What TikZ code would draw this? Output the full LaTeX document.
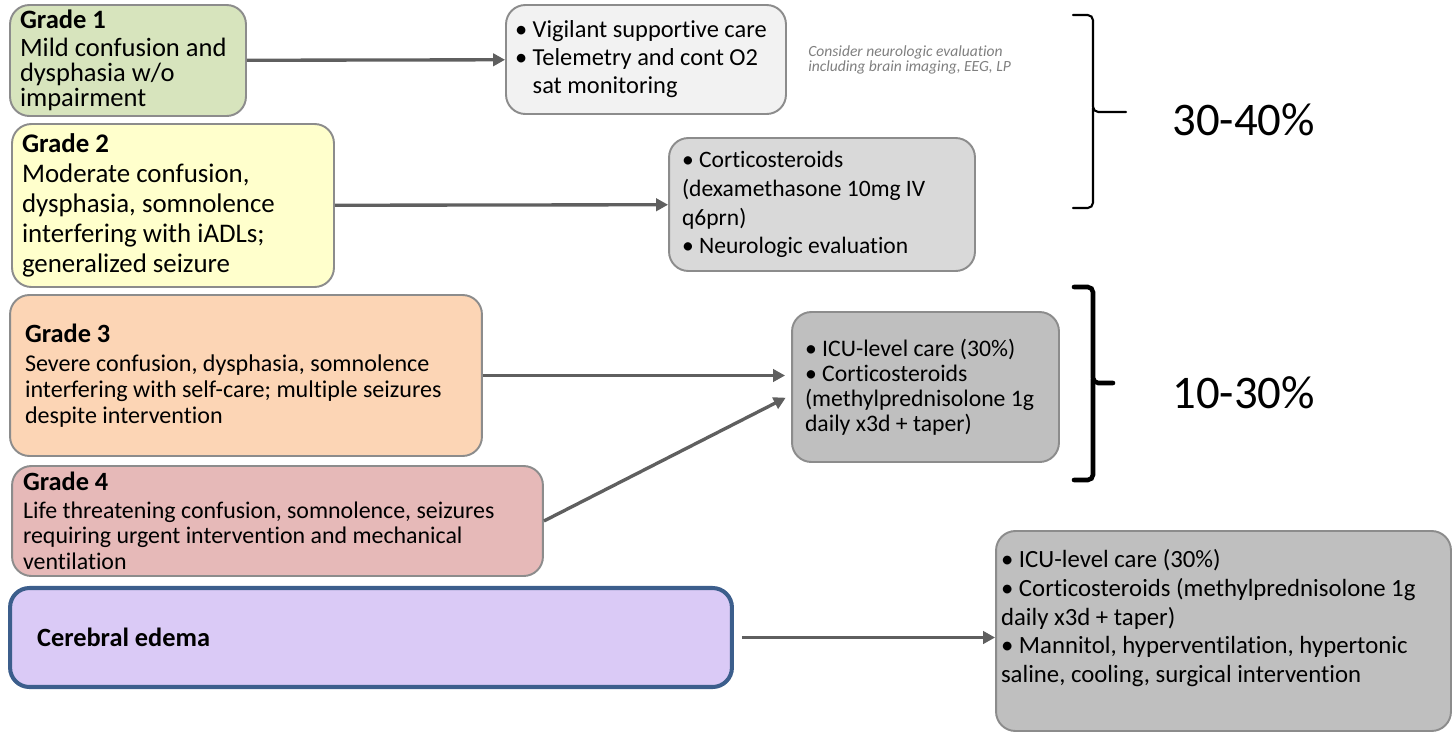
\documentclass[tikz,border=0pt]{standalone}
\usepackage{fontspec}
\setmainfont{Carlito}[Ligatures={NoCommon,NoContextual}]
\usepackage{xcolor}
\usepackage{tikz}
\usetikzlibrary{arrows.meta}

\definecolor{gradeone}{HTML}{D7E4BD}
\definecolor{gradetwo}{HTML}{FFFFCC}
\definecolor{gradethree}{HTML}{FCD5B5}
\definecolor{gradefour}{HTML}{E6B9B8}
\definecolor{edemafill}{HTML}{DACAF6}
\definecolor{edemaline}{HTML}{3C5E8C}
\definecolor{boxline}{HTML}{8C8C8C}
\definecolor{arrowgray}{HTML}{5F5F5F}
\definecolor{notegray}{HTML}{7F7F7F}

\begin{document}
\begin{tikzpicture}[x=0.02cm, y=-0.02cm,
    box/.style={draw=boxline, line width=1.1pt, rounded corners=11pt, align=flush left,
        inner ysep=0pt, execute at begin node={\lineskiplimit=-20pt}},
    arr/.style={draw=arrowgray, line width=1.9pt, -{Triangle[length=6.8pt,width=7pt]}},
    brace/.style={draw=black, rounded corners=3pt, line cap=round}]

    \useasboundingbox (0,0) rectangle (1454,734);

    % grades
    \node[box, fill=gradeone, minimum width=4.72cm, minimum height=2.22cm, inner xsep=0.2cm,
        text width=4.32cm, font=\fontsize{15.1}{14.2}\selectfont] (g1) at (128,60.5)
        {\textbf{Grade 1}\\[1.5pt]Mild confusion and\\dysphasia w/o\\impairment};
    \node[box, fill=gradetwo, minimum width=6.44cm, minimum height=3.26cm, inner xsep=0.2cm,
        text width=6.04cm, font=\fontsize{15.3}{17}\selectfont] (g2) at (173,205.5)
        {\textbf{Grade 2}\\Moderate confusion,\\dysphasia, somnolence\\interfering with iADLs;\\generalized seizure};
    \node[box, fill=gradethree, minimum width=9.44cm, minimum height=3.22cm, inner xsep=0.3cm,
        text width=8.84cm, font=\fontsize{13.7}{14.7}\selectfont] (g3) at (246,375.5)
        {\textbf{\fontsize{15}{15}\selectfont Grade 3}\\[2pt]Severe confusion, dysphasia, somnolence\\interfering with self-care; multiple seizures\\despite intervention};
    \node[box, fill=gradefour, minimum width=10.62cm, minimum height=2.2cm, inner xsep=0.22cm,
        text width=10.18cm, font=\fontsize{13.6}{14.7}\selectfont] (g4) at (277.5,521)
        {\textbf{\fontsize{15}{15}\selectfont Grade 4}\\[1pt]Life threatening confusion, somnolence, seizures\\requiring urgent intervention and mechanical\\ventilation};
    \node[box, draw=edemaline, line width=2.3pt, fill=edemafill, minimum width=14.44cm, minimum height=1.98cm,
        inner xsep=0.54cm, text width=13.36cm, font=\fontsize{15}{17}\selectfont\bfseries] (ed) at (371,637.5)
        {Cerebral edema};

    % treatments
    \node[box, fill=black!5, minimum width=5.6cm, minimum height=2.18cm, inner xsep=0.18cm,
        text width=5.24cm, font=\fontsize{13.9}{15.9}\selectfont] (t1) at (646,59.5)
        {• Vigilant supportive care\\• Telemetry and cont O2\\\hphantom{•~}sat monitoring};
    \node[box, fill=black!15, minimum width=6.12cm, minimum height=2.66cm, inner xsep=0.26cm,
        text width=5.6cm, font=\fontsize{13.4}{16.4}\selectfont] (t2) at (822,204.5)
        {• Corticosteroids\\(dexamethasone 10mg IV\\q6prn)\\• Neurologic evaluation};
    \node[box, fill=black!25, minimum width=5.34cm, minimum height=3cm, inner xsep=0.26cm,
        text width=4.82cm, font=\fontsize{13.5}{14.2}\selectfont] (t3) at (925.5,387)
        {• ICU-level care (30\%)\\• Corticosteroids\\(methylprednisolone 1g\\daily x3d + taper)};
    \node[box, fill=black!25, minimum width=9.1cm, minimum height=4cm, inner xsep=0.1cm,
        text width=8.9cm, text depth=82.7pt, font=\fontsize{14.1}{16.4}\selectfont] (t4) at (1223.5,631)
        {• ICU-level care (30\%)\\• Corticosteroids (methylprednisolone 1g\\daily x3d + taper)\\• Mannitol, hyperventilation, hypertonic\\saline, cooling, surgical intervention};

    \node[anchor=west, align=left, text=notegray, inner sep=0pt,
        font=\fontsize{8.85}{8.5}\selectfont\itshape] (note) at (808,60)
        {Consider neurologic evaluation\\including brain imaging, EEG, LP};

    % arrows
    \draw[arr] (g1) -- (t1);
    \draw[arr] (g2) -- (t2);
    \draw[arr, shorten >=0.12cm] (g3.east) -- (g3.east -| t3.west);
    \draw[arr, shorten >=0.12cm] (g4.east) -- ([yshift=-0.16cm]t3.west);
    \draw[arr, shorten <=0.16cm] (ed.east) -- (ed.east -| t4.west);

    % braces
    \draw[brace, line width=1.2pt] (1073,15) -- (1093,15) -- (1093,112) -- (1126,112);
    \draw[brace, line width=1.2pt] (1093,108) -- (1093,208) -- (1073,208);
    \draw[brace, line width=2.6pt] (1074,287) -- (1093,287) -- (1093,383) -- (1113,383);
    \draw[brace, line width=2.6pt] (1093,379) -- (1093,480) -- (1074,480);

    \node[anchor=west, inner sep=0pt, font=\fontsize{26.6}{30}\selectfont] (p1) at (1172,120) {30-40\%};
    \node[anchor=west, inner sep=0pt, font=\fontsize{26.6}{30}\selectfont] (p2) at (1172,393) {10-30\%};
\end{tikzpicture}
\end{document}
